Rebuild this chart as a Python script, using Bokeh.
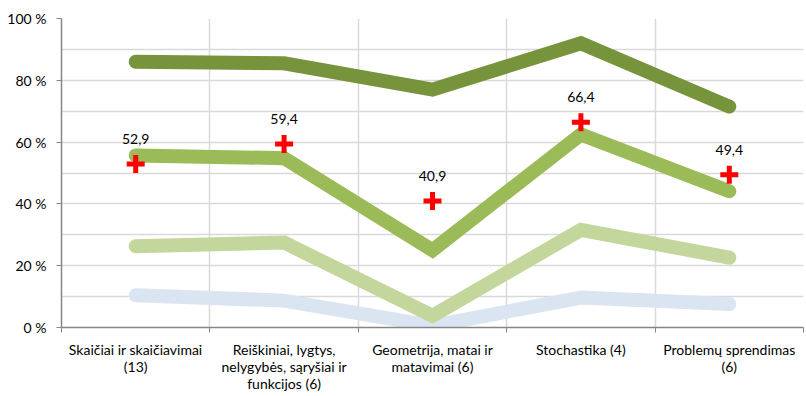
from bokeh.plotting import figure
from bokeh.models import FixedTicker, ColumnDataSource
from bokeh.embed import file_html
from bokeh.resources import INLINE
from bokeh.core.properties import value

categories = [
    "Skaičiai ir skaičiavimai\n(13)",
    "Reiškiniai, lygtys,\nnelygybės, sąryšiai ir\nfunkcijos (6)",
    "Geometrija, matai ir\nmatavimai (6)",
    "Stochastika (4)",
    "Problemų sprendimas\n(6)",
]
series_blue = [10.4, 8.7, 0.5, 9.7, 7.6]
series_light = [26.3, 27.5, 3.8, 31.6, 22.6]
series_mid = [55.7, 54.8, 25.0, 62.5, 44.1]
series_dark = [86.0, 85.5, 77.0, 92.0, 71.5]
marker_values = [52.9, 59.4, 40.9, 66.4, 49.4]
marker_labels = ["52,9", "59,4", "40,9", "66,4", "49,4"]
y_ticks = [0, 20, 40, 60, 80, 100]
y_tick_labels = ["0 %", "20 %", "40 %", "60 %", "80 %", "100 %"]

xs = [i + 0.5 for i in range(len(categories))]

FONT = "Lato"

p = figure(width=804, height=394, output_backend="svg", toolbar_location=None,
           x_range=(0, 5), y_range=(0, 100),
           min_border_left=61, min_border_right=1, min_border_top=18, min_border_bottom=10)
p.outline_line_color = None
p.background_fill_color = "white"
p.border_fill_color = "white"

# grid
p.xgrid.ticker = FixedTicker(ticks=[0, 1, 2, 3, 4, 5])
p.xgrid.grid_line_color = "#D9D9D9"
p.xgrid.grid_line_width = 1.5
p.ygrid.ticker = FixedTicker(ticks=y_ticks, minor_ticks=[10, 30, 50, 70, 90])
p.ygrid.grid_line_color = "#D9D9D9"
p.ygrid.grid_line_width = 1.5
p.ygrid.minor_grid_line_color = "#D9D9D9"
p.ygrid.minor_grid_line_width = 1.5

# y axis
p.yaxis.ticker = FixedTicker(ticks=y_ticks)
p.yaxis.major_label_overrides = {t: l for t, l in zip(y_ticks, y_tick_labels)}
p.yaxis.axis_line_color = "#868686"
p.yaxis.axis_line_width = 1.5
p.yaxis.major_tick_line_color = "#868686"
p.yaxis.major_tick_out = 5
p.yaxis.major_tick_in = 0
p.yaxis.minor_tick_line_color = None
p.yaxis.major_label_text_font = FONT
p.yaxis.major_label_text_font_size = "14px"
p.yaxis.major_label_text_color = "#000000"
p.yaxis.major_label_standoff = 10

# x axis
p.xaxis.ticker = FixedTicker(ticks=xs, minor_ticks=[0, 1, 2, 3, 4, 5])
p.xaxis.major_label_overrides = {x: c for x, c in zip(xs, categories)}
p.xaxis.axis_line_color = "#868686"
p.xaxis.axis_line_width = 1.5
p.xaxis.major_tick_line_color = None
p.xaxis.minor_tick_line_color = "#868686"
p.xaxis.minor_tick_out = 5
p.xaxis.minor_tick_in = 0
p.xaxis.major_label_text_font = FONT
p.xaxis.major_label_text_font_size = "14px"
p.xaxis.major_label_text_color = "#000000"
p.xaxis.major_label_text_line_height = 1.0
p.xaxis.major_label_standoff = 7

# lines
for vals, col in [(series_blue, "#DBE5F1"), (series_light, "#C3D69B"),
                  (series_mid, "#9BBB59"), (series_dark, "#77933C")]:
    p.line(xs, vals, line_color=col, line_width=14, line_cap="round", line_join="miter")

src = ColumnDataSource(dict(x=xs, y=marker_values, t=marker_labels))
p.scatter("x", "y", source=src, marker="cross", size=18, line_width=5, line_color="#FF0000")
p.text("x", "y", text="t", source=src, y_offset=-25, text_align="center",
       text_baseline="alphabetic", text_font=value(FONT), text_font_size="14px",
       text_color="#000000")

open("out.html", "w").write(file_html(p, INLINE))
